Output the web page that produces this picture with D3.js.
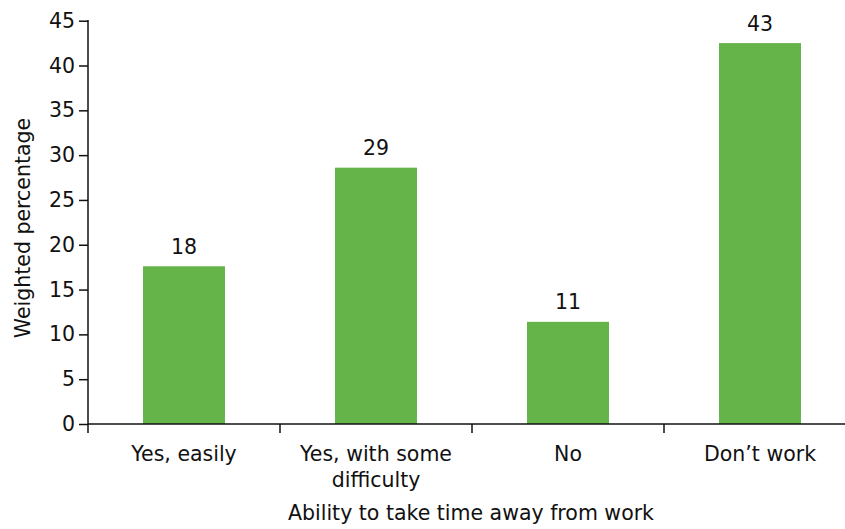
<!DOCTYPE html>
<html>
<head>
<meta charset="utf-8">
<script src="https://cdn.jsdelivr.net/npm/d3@7"></script>
<style>
  body { margin: 0; background: #fff; }
  svg text { font-family: "DejaVu Sans", sans-serif; fill: #111; }
</style>
</head>
<body>
<svg id="chart" width="845" height="529"></svg>
<script>
// data
var categories = ["Yes, easily", "Yes, with some difficulty", "No", "Don\u2019t work"];
var catLines = [["Yes, easily"], ["Yes, with some", "difficulty"], ["No"], ["Don\u2019t work"]];
var values = [17.6, 28.6, 11.4, 42.5];
var valueLabels = ["18", "29", "11", "43"];
var yTicks = [0, 5, 10, 15, 20, 25, 30, 35, 40, 45];

var svg = d3.select("#chart");
var left = 88, plotTop = 20.7, bottom = 424;
var fontSize = 20.5;
var barColor = "#65b449";

var x = d3.scaleBand()
    .domain(categories)
    .range([left, left + 768])
    .paddingInner(0.573)
    .paddingOuter(0.2865);

var y = d3.scaleLinear().domain([0, 45]).range([bottom, plotTop]);

// bars
svg.selectAll("rect.bar")
    .data(values)
    .enter()
    .append("rect")
    .attr("class", "bar")
    .attr("x", function(d, i){ return x(categories[i]); })
    .attr("width", x.bandwidth())
    .attr("y", function(d){ return y(d); })
    .attr("height", function(d){ return bottom - y(d); })
    .style("fill", barColor);

// value labels
svg.selectAll("text.val")
    .data(values)
    .enter()
    .append("text")
    .attr("class", "val")
    .attr("x", function(d, i){ return x(categories[i]) + x.bandwidth() / 2; })
    .attr("y", function(d){ return y(d) - 12.5; })
    .attr("text-anchor", "middle")
    .style("font-size", fontSize + "px")
    .text(function(d, i){ return valueLabels[i]; });

// y axis
var yAxis = svg.append("g")
    .attr("transform", `translate(${left},0)`)
    .call(d3.axisLeft(y).tickValues(yTicks).tickSize(9).tickPadding(4).tickSizeOuter(0));
yAxis.select(".domain").remove();
yAxis.selectAll("line").style("stroke", "#111").style("stroke-width", 1.5);
yAxis.selectAll("text").style("font-size", fontSize + "px").style("fill", "#111")
    .style("font-family", "\"DejaVu Sans\", sans-serif");
svg.append("line")
    .attr("x1", left).attr("x2", left)
    .attr("y1", plotTop - 0.7).attr("y2", bottom + 9)
    .style("stroke", "#111").style("stroke-width", 1.5);

// x axis baseline + boundary ticks
svg.append("line")
    .attr("x1", left).attr("x2", 845)
    .attr("y1", bottom).attr("y2", bottom)
    .style("stroke", "#111").style("stroke-width", 1.5);

var step = x.step();
var bounds = d3.range(1, categories.length).map(function(i){ return left + i * step; });
svg.selectAll("line.xtick")
    .data(bounds)
    .enter()
    .append("line")
    .attr("class", "xtick")
    .attr("x1", function(d){ return d; }).attr("x2", function(d){ return d; })
    .attr("y1", bottom).attr("y2", bottom + 9)
    .style("stroke", "#111").style("stroke-width", 1.5);

// category labels
var catText = svg.selectAll("text.cat")
    .data(catLines)
    .enter()
    .append("text")
    .attr("class", "cat")
    .attr("text-anchor", "middle")
    .style("font-size", fontSize + "px")
    .attr("transform", function(d, i){
        return `translate(${x(categories[i]) + x.bandwidth() / 2} ${bottom + 37})`;
    });
catText.selectAll("tspan")
    .data(function(d){ return d; })
    .enter()
    .append("tspan")
    .attr("x", 0)
    .attr("dy", function(d, i){ return i === 0 ? 0 : 26; })
    .text(function(d){ return d; });

// axis titles
svg.append("text")
    .attr("x", 471).attr("y", 520)
    .attr("text-anchor", "middle")
    .style("font-size", fontSize + "px")
    .text("Ability to take time away from work");

svg.append("text")
    .attr("transform", "translate(30 228) rotate(-90)")
    .attr("text-anchor", "middle")
    .style("font-size", fontSize + "px")
    .text("Weighted percentage");
</script>
</body>
</html>
